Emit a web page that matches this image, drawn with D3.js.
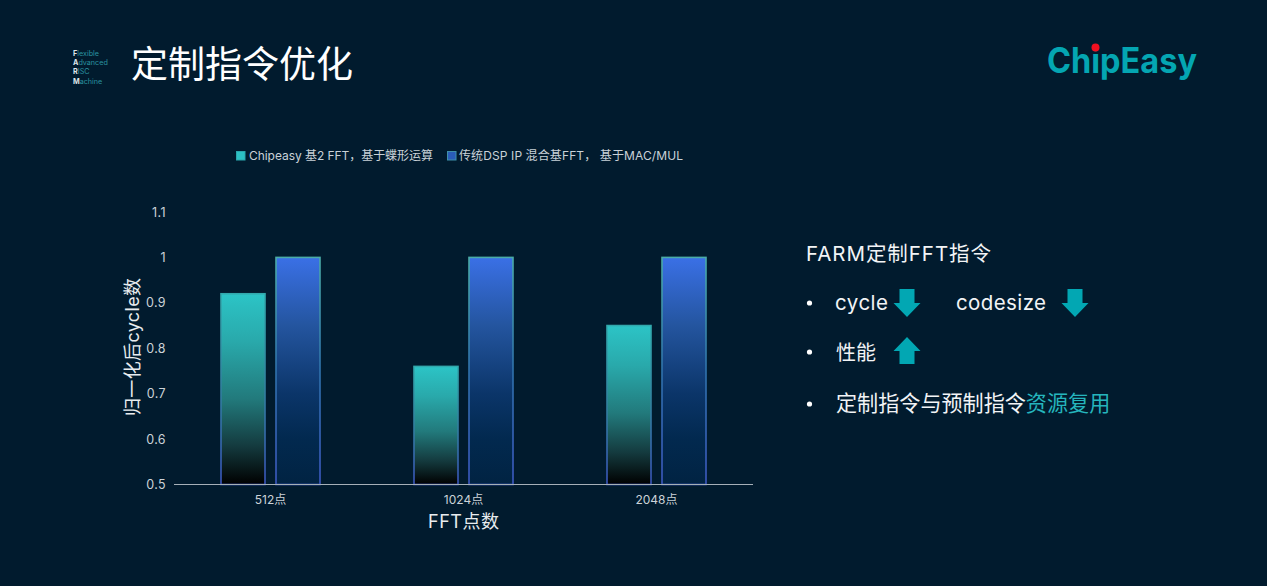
<!DOCTYPE html>
<html><head><meta charset="utf-8">
<script src="https://cdn.jsdelivr.net/npm/d3@7/dist/d3.min.js"></script>
<style>
html,body{margin:0;padding:0;background:#011b2e;overflow:hidden}
svg{display:block}
text{font-family:"Inter","Noto Sans CJK SC",sans-serif}
</style></head><body>
<svg id="c" width="1267" height="586"></svg>
<script>
const categories=["512点","1024点","2048点"];
const seriesNames=["Chipeasy 基2 FFT\uFF0C基于蝶形运算","传统DSP IP 混合基FFT\uFF0C 基于MAC/MUL"];
const chipeasyValues=[0.92,0.76,0.85];
const dspValues=[1,1,1];
const yTicks=[0.5,0.6,0.7,0.8,0.9,1,1.1];
const yTickLabels=["0.5","0.6","0.7","0.8","0.9","1","1.1"];
const series=[chipeasyValues,dspValues];
const svg=d3.select("#c");
svg.append("rect").attr("width",1267).attr("height",586).attr("fill","#011b2e");
const defs=svg.append("defs");
function grad(id,stops){
  const g=defs.append("linearGradient").attr("id",id).attr("x1",0).attr("y1",0).attr("x2",0).attr("y2",1);
  stops.forEach(s=>g.append("stop").attr("offset",s[0]).attr("stop-color",s[1]));
}
grad("g0",[[0,"#2cc4c6"],[0.25,"#29a9ab"],[0.55,"#227a7c"],[0.8,"#143a3e"],[1,"#000000"]]);
grad("g1",[[0,"#3a70e6"],[0.3,"#24559f"],[0.6,"#0b3569"],[0.8,"#02294f"],[1,"#012342"]]);
grad("s0",[[0,"#32a9ad"],[0.5,"#317f9e"],[1,"#3a55bb"]]);
grad("s1",[[0,"#4aaca6"],[0.5,"#2f72ac"],[1,"#3c58c0"]]);

// header
const farm=[["F","lexible"],["A","dvanced"],["R","ISC"],["M","achine"]];
farm.forEach((d,i)=>{
  const t=svg.append("text").attr("x",73).attr("y",[56,65,74,84][i]).attr("font-size",7.2);
  t.append("tspan").attr("fill","#dfe6ea").attr("font-weight","bold").text(d[0]);
  t.append("tspan").attr("fill","#2a93a0").text(d[1]);
});
svg.append("text").attr("x",131).attr("y",78).attr("font-size",37).attr("fill","#fff").attr("font-weight",400).attr("font-family",'"Noto Sans CJK SC"').text("定制指令优化");
svg.append("text").attr("x",1047).attr("y",73).attr("font-size",35).attr("font-weight",700).attr("fill","#04a6b2").attr("textLength",150).attr("lengthAdjust","spacingAndGlyphs").text("ChipEasy");
svg.append("circle").attr("cx",1095.5).attr("cy",47.5).attr("r",4).attr("fill","#f01020");

// chart
const x0=d3.scaleBand().domain(categories).range([174,753]);
const x1=d3.scaleBand().domain([0,1]).range([0,99]).paddingInner(0.2);
const y=d3.scaleLinear().domain([0.5,1.1]).range([484.5,212]);
const bandOff=(x0.bandwidth()-99)/2;
series.forEach((vals,si)=>{
  svg.append("g").selectAll("rect").data(vals).join("rect")
    .attr("x",(d,i)=>x0(categories[i])+bandOff+x1(si))
    .attr("y",d=>y(d))
    .attr("width",x1.bandwidth())
    .attr("height",d=>y(0.5)-y(d))
    .attr("fill",`url(#g${si})`)
    .attr("stroke",`url(#s${si})`)
    .attr("stroke-width",1.6);
});
svg.append("line").attr("x1",174).attr("x2",753).attr("y1",y(0.5)).attr("y2",y(0.5)).attr("stroke","#a6b0b8").attr("stroke-width",1.2);
svg.append("g").selectAll("text").data(yTicks).join("text")
  .attr("x",166).attr("y",d=>y(d)+4.5).attr("text-anchor","end").attr("font-size",12.5).attr("fill","#ccd3d8").attr("font-family",'"Liberation Sans"').attr("letter-spacing",0.4)
  .text((d,i)=>yTickLabels[i]);
svg.append("g").selectAll("text").data(categories).join("text")
  .attr("x",d=>x0(d)+x0.bandwidth()/2).attr("y",504).attr("text-anchor","middle").attr("font-size",12).attr("fill","#ccd3d8")
  .text(d=>d);
svg.append("text").attr("x",463.5).attr("y",528).attr("text-anchor","middle").attr("font-size",18).attr("fill","#e8ecef").attr("textLength",71).text("FFT点数");
svg.append("text").attr("transform","translate(139,347) rotate(-90)").attr("text-anchor","middle").attr("font-size",18).attr("fill","#e8ecef").attr("textLength",138).text("归一化后cycle数");

// legend
[["#2cc0c4","#2aa6ac"],["#2a5cb8","#3f8fa8"]].forEach((d,i)=>{
  svg.append("rect").attr("x",[236.5,447.5][i]).attr("y",151.5).attr("width",8.5).attr("height",8.5).attr("fill",d[0]).attr("stroke",d[1]).attr("stroke-width",1);
});
svg.append("text").attr("x",249).attr("y",160).attr("font-size",12).attr("fill","#c9d2d8").attr("textLength",184).text(seriesNames[0]);
svg.append("text").attr("x",459).attr("y",160).attr("font-size",12).attr("fill","#c9d2d8").attr("textLength",224).text(seriesNames[1]);

// right panel
svg.append("text").attr("x",806).attr("y",261).attr("font-size",20.5).attr("fill","#f2f4f6").attr("textLength",185).text("FARM定制FFT指令");
[303,352,404].forEach(cy=>svg.append("circle").attr("cx",809.5).attr("cy",cy).attr("r",2.6).attr("fill","#fff"));
svg.append("text").attr("x",835).attr("y",310).attr("font-size",20.5).attr("fill","#f2f4f6").attr("textLength",53).text("cycle");
svg.append("text").attr("x",956).attr("y",310).attr("font-size",20.5).attr("fill","#f2f4f6").attr("textLength",90).text("codesize");
svg.append("text").attr("x",836).attr("y",360).attr("font-size",20).attr("fill","#f2f4f6").attr("font-family",'"Noto Sans CJK SC"').text("性能");
const t=svg.append("text").attr("x",836).attr("y",411).attr("font-size",21.1).attr("font-family",'"Noto Sans CJK SC"');
t.append("tspan").attr("fill","#f2f4f6").text("定制指令与预制指令");
t.append("tspan").attr("fill","#25b5bd").text("资源复用");
function arrow(cx,top,bot,up){
  const hw=13.5,sw=7.5;
  const tip=up?top:bot, base=up?bot:top;
  const sh=tip+(up?14:-14);
  svg.append("path").attr("fill","#02a7b3")
   .attr("d",`M${cx},${tip}L${cx+hw},${sh}H${cx+sw}V${base}H${cx-sw}V${sh}H${cx-hw}Z`);
}
arrow(907,289,317,false);
arrow(1075,289,317,false);
arrow(907,337,364,true);
</script>
</body></html>
